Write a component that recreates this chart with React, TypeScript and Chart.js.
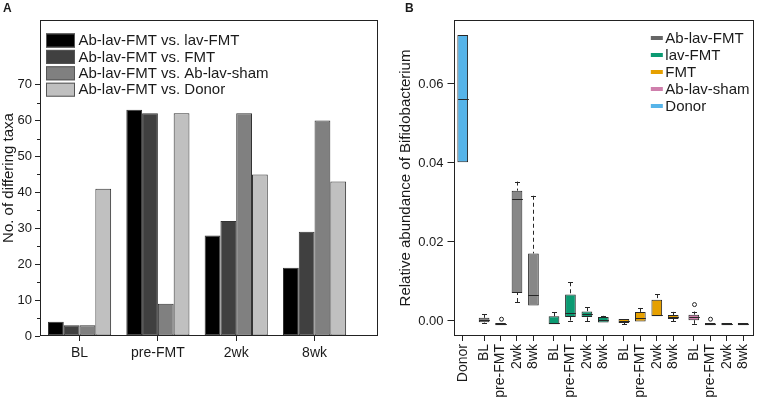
import React, { useEffect, useRef } from 'react';
import { Chart, registerables } from 'chart.js';

Chart.register(...registerables);

const FONT = '"Liberation Sans", Arial, Helvetica, sans-serif';
const INK = '#1a1a1a';

// ---------- Panel A data ----------
const timepoints = ['BL', 'pre-FMT', '2wk', '8wk'];
const comparisonLabels = [
  'Ab-lav-FMT vs. lav-FMT',
  'Ab-lav-FMT vs. FMT',
  'Ab-lav-FMT vs. Ab-lav-sham',
  'Ab-lav-FMT vs. Donor',
];
const vsLavFMT = [4, 63, 28, 19];
const vsFMT = [3, 62, 32, 29];
const vsAbLavSham = [3, 9, 62, 60];
const vsDonor = [41, 62, 45, 43];
const barYTicks = [0, 10, 20, 30, 40, 50, 60, 70];

// ---------- Panel B data ----------
const groupNames = ['Ab-lav-FMT', 'lav-FMT', 'FMT', 'Ab-lav-sham', 'Donor'];
const boxLabels = ['Donor', 'BL', 'pre-FMT', '2wk', '8wk', 'BL', 'pre-FMT', '2wk', '8wk', 'BL', 'pre-FMT', '2wk', '8wk', 'BL', 'pre-FMT', '2wk', '8wk'];
const boxGroups = ['Donor', 'Ab-lav-FMT', 'Ab-lav-FMT', 'Ab-lav-FMT', 'Ab-lav-FMT', 'lav-FMT', 'lav-FMT', 'lav-FMT', 'lav-FMT', 'FMT', 'FMT', 'FMT', 'FMT', 'Ab-lav-sham', 'Ab-lav-sham', 'Ab-lav-sham', 'Ab-lav-sham'];
const whiskerLow = [0.0402, -0.0004, -0.0011, 0.0048, 0.0039, -0.0008, 0.0001, -0.0001, -0.0004, -0.0008, -0.0001, 0.0012, -0.0001, -0.0007, -0.0011, -0.0011, -0.0011];
const q1 = [0.0402, -0.0003, -0.0011, 0.0071, 0.0039, -0.0008, 0.0010, 0.0010, -0.0004, -0.0005, -0.0001, 0.0012, 0.0005, 0.0002, -0.0011, -0.0011, -0.0011];
const median = [0.0563, 0.0003, -0.0008, 0.0309, 0.0067, -0.0006, 0.0020, 0.0018, 0.0003, 0.0001, 0.0008, 0.0016, 0.0010, 0.0010, -0.0008, -0.0008, -0.0008];
const q3 = [0.0724, 0.0008, -0.0005, 0.0330, 0.0171, 0.0012, 0.0067, 0.0024, 0.0010, 0.0005, 0.0023, 0.0054, 0.0015, 0.0016, -0.0005, -0.0005, -0.0005];
const whiskerHigh = [0.0724, 0.0017, -0.0005, 0.0353, 0.0317, 0.0022, 0.0098, 0.0035, 0.0013, 0.0005, 0.0033, 0.0068, 0.0023, 0.0024, -0.0005, -0.0005, -0.0005];
const outliers: number[][] = [[], [], [0.0002], [], [], [], [], [], [], [], [], [], [], [0.0039], [0.0002], [], []];
const boxYTicks = [0, 0.02, 0.04, 0.06];

// ---------- styles ----------
const barColors = ['#000000', '#404040', '#808080', '#c0c0c0'];
const groupFill: Record<string, string> = {
  'Ab-lav-FMT': '#878787',
  'lav-FMT': '#0b9a72',
  FMT: '#e6a000',
  'Ab-lav-sham': '#cf7fac',
  Donor: '#56b4e9',
};
const groupLegend: Record<string, string> = {
  'Ab-lav-FMT': '#666666',
  'lav-FMT': '#0b9a72',
  FMT: '#e6a000',
  'Ab-lav-sham': '#cf7fac',
  Donor: '#56b4e9',
};

// x positions for panel B: Donor alone, then four groups of four with a small gap
function boxPositions(): number[] {
  return boxGroups.map((g, i) => {
    if (i === 0) return 0;
    const gi = Math.floor((i - 1) / 4);
    const k = (i - 1) % 4;
    return 1.3 + gi * 4.25 + k;
  });
}

const framePlugin = {
  id: 'frame',
  afterDatasetsDraw(chart: any) {
    const { ctx, chartArea: a } = chart;
    ctx.save();
    ctx.strokeStyle = '#222';
    ctx.lineWidth = 1;
    ctx.strokeRect(Math.round(a.left) + 0.5, Math.round(a.top) + 0.5, Math.round(a.right - a.left) - 1, Math.round(a.bottom - a.top) - 1);
    ctx.restore();
  },
};

function panelLabel(text: string, x: number) {
  return {
    id: 'panelLabel' + text,
    afterDraw(chart: any) {
      const ctx = chart.ctx;
      ctx.save();
      ctx.fillStyle = INK;
      ctx.font = `bold 12px ${FONT}`;
      ctx.textBaseline = 'top';
      ctx.textAlign = 'left';
      ctx.fillText(text, x, 3);
      ctx.restore();
    },
  };
}

const legendAPlugin = {
  id: 'legendA',
  afterDraw(chart: any) {
    const { ctx, chartArea: a } = chart;
    ctx.save();
    ctx.font = `15px ${FONT}`;
    ctx.textBaseline = 'middle';
    ctx.textAlign = 'left';
    comparisonLabels.forEach((lab, i) => {
      const y = a.top + 13.5 + i * 16.4;
      ctx.fillStyle = barColors[i];
      ctx.fillRect(a.left + 6, y, 29, 14);
      ctx.strokeStyle = '#555';
      ctx.lineWidth = 1;
      ctx.strokeRect(a.left + 6.5, y + 0.5, 28, 13);
      ctx.fillStyle = INK;
      ctx.fillText(lab, a.left + 38.5, y + 7.5);
    });
    ctx.restore();
  },
};

const minorTickPlugin = {
  id: 'minorTicks',
  afterDraw(chart: any) {
    const { ctx, chartArea: a } = chart;
    const ys = chart.scales.y;
    ctx.save();
    ctx.strokeStyle = '#222';
    ctx.lineWidth = 1;
    for (let i = 0; i < barYTicks.length - 1; i++) {
      const py = Math.round(ys.getPixelForValue((barYTicks[i] + barYTicks[i + 1]) / 2)) + 0.5;
      ctx.beginPath();
      ctx.moveTo(a.left - 3, py);
      ctx.lineTo(a.left, py);
      ctx.stroke();
    }
    ctx.restore();
  },
};

const boxPlugin = {
  id: 'boxParts',
  afterDatasetsDraw(chart: any) {
    const { ctx } = chart;
    const xs = chart.scales.x;
    const ys = chart.scales.y;
    const meta = chart.getDatasetMeta(0);
    const pos = boxPositions();
    ctx.save();
    ctx.strokeStyle = '#262626';
    ctx.lineWidth = 1;
    pos.forEach((p, i) => {
      const x = Math.round(xs.getPixelForValue(p)) + 0.5;
      const el = meta.data[i];
      const hw = el ? el.width / 2 : 5.5;
      const drawWhisker = (from: number, to: number) => {
        const yf = ys.getPixelForValue(from);
        const yt = ys.getPixelForValue(to);
        ctx.setLineDash([4, 3]);
        ctx.beginPath();
        ctx.moveTo(x, yf);
        ctx.lineTo(x, yt);
        ctx.stroke();
        ctx.setLineDash([]);
        ctx.beginPath();
        ctx.moveTo(x - 2.5, Math.round(yf) + 0.5);
        ctx.lineTo(x + 2.5, Math.round(yf) + 0.5);
        ctx.stroke();
      };
      if (whiskerHigh[i] > q3[i]) drawWhisker(whiskerHigh[i], q3[i]);
      if (whiskerLow[i] < q1[i]) drawWhisker(whiskerLow[i], q1[i]);
      const my = Math.round(ys.getPixelForValue(median[i])) + 0.5;
      ctx.beginPath();
      ctx.moveTo(x - hw, my);
      ctx.lineTo(x + hw, my);
      ctx.stroke();
      outliers[i].forEach((o) => {
        const oy = ys.getPixelForValue(o);
        ctx.beginPath();
        ctx.arc(x, oy - 1, 2, 0, Math.PI * 2);
        ctx.fillStyle = '#fff';
        ctx.fill();
        ctx.stroke();
      });
    });
    ctx.restore();
  },
};

const legendBPlugin = {
  id: 'legendB',
  afterDraw(chart: any) {
    const { ctx, chartArea: a } = chart;
    ctx.save();
    ctx.font = `15px ${FONT}`;
    ctx.textBaseline = 'middle';
    ctx.textAlign = 'left';
    groupNames.forEach((g, i) => {
      const y = a.top + 18 + i * 17;
      ctx.fillStyle = groupLegend[g];
      ctx.fillRect(a.right - 103, y - 2, 12, 4);
      ctx.fillStyle = INK;
      ctx.fillText(g, a.right - 88.5, y + 1);
    });
    ctx.restore();
  },
};

function PanelA() {
  const ref = useRef<HTMLCanvasElement>(null);
  useEffect(() => {
    const series = [vsLavFMT, vsFMT, vsAbLavSham, vsDonor];
    const chart = new Chart(ref.current as HTMLCanvasElement, {
      type: 'bar',
      data: {
        datasets: series.map((s, k) => ({
          label: comparisonLabels[k],
          data: s.map((v, i) => ({ x: i, y: v })),
          backgroundColor: barColors[k],
          borderColor: '#333',
          borderWidth: 1,
          borderSkipped: false,
          categoryPercentage: 0.806,
          barPercentage: 1,
        })),
      },
      options: {
        animation: false,
        responsive: false,
        maintainAspectRatio: false,
        layout: { padding: { top: 20, right: 2, left: 0, bottom: 0 } },
        plugins: { legend: { display: false }, tooltip: { enabled: false } },
        scales: {
          x: {
            type: 'linear',
            min: -0.505,
            max: 3.81,
            offset: false,
            afterBuildTicks: (s: any) => {
              s.ticks = timepoints.map((_, i) => ({ value: i }));
            },
            afterFit: (s: any) => {
              s.height = 69;
            },
            ticks: {
              autoSkip: false,
              maxRotation: 0,
              minRotation: 0,
              padding: 4,
              color: INK,
              font: { family: FONT, size: 14 },
              callback: (_v: any, i: number) => timepoints[i],
            },
            grid: { display: true, offset: false, drawOnChartArea: false, drawTicks: true, tickLength: 5, color: '#222' },
            border: { display: false },
          },
          y: {
            min: 0,
            max: 88,
            afterBuildTicks: (s: any) => {
              s.ticks = barYTicks.map((v) => ({ value: v }));
            },
            afterFit: (s: any) => {
              s.width = 40;
            },
            ticks: { padding: 3, color: INK, font: { family: FONT, size: 13 } },
            grid: { display: true, drawOnChartArea: false, drawTicks: true, tickLength: 5, color: '#222' },
            border: { display: false },
            title: {
              display: true,
              text: 'No. of differing taxa',
              color: INK,
              font: { family: FONT, size: 15 },
              padding: { top: 0, bottom: 0 },
            },
          },
        },
      } as any,
      plugins: [framePlugin, legendAPlugin, minorTickPlugin, panelLabel('A', 3)],
    });
    return () => chart.destroy();
  }, []);
  return <canvas ref={ref} width={380} height={405} style={{ position: 'absolute', left: 0, top: 0, width: 380, height: 405 }} />;
}

function PanelB() {
  const ref = useRef<HTMLCanvasElement>(null);
  useEffect(() => {
    const pos = boxPositions();
    const chart = new Chart(ref.current as HTMLCanvasElement, {
      type: 'bar',
      data: {
        datasets: [
          {
            label: 'boxes',
            data: pos.map((p, i) => ({ x: p, y: [q1[i], q3[i]] })) as any,
            backgroundColor: boxGroups.map((g) => groupFill[g]),
            borderColor: '#262626',
            borderWidth: 1,
            borderSkipped: false,
            categoryPercentage: 0.65,
            barPercentage: 1,
          },
        ],
      },
      options: {
        animation: false,
        responsive: false,
        maintainAspectRatio: false,
        layout: { padding: { top: 20, right: 2, left: 0, bottom: 0 } },
        plugins: { legend: { display: false }, tooltip: { enabled: false } },
        scales: {
          x: {
            type: 'linear',
            min: -0.56,
            max: 17.7,
            offset: false,
            afterBuildTicks: (s: any) => {
              s.ticks = pos.map((v) => ({ value: v }));
            },
            afterFit: (s: any) => {
              s.height = 69;
            },
            ticks: {
              autoSkip: false,
              maxRotation: 90,
              minRotation: 90,
              padding: 3,
              color: INK,
              font: { family: FONT, size: 14 },
              callback: (_v: any, i: number) => boxLabels[i],
            },
            grid: { display: true, offset: false, drawOnChartArea: false, drawTicks: true, tickLength: 5, color: '#222' },
            border: { display: false },
          },
          y: {
            min: -0.0038,
            max: 0.0762,
            afterBuildTicks: (s: any) => {
              s.ticks = boxYTicks.map((v) => ({ value: v }));
            },
            afterFit: (s: any) => {
              s.width = 73.5;
            },
            ticks: {
              padding: 4,
              color: INK,
              font: { family: FONT, size: 13 },
              callback: (v: any) => Number(v).toFixed(2),
            },
            grid: { display: true, drawOnChartArea: false, drawTicks: true, tickLength: 6, color: '#222' },
            border: { display: false },
            title: {
              display: true,
              text: 'Relative abundance of Bifidobacterium',
              color: INK,
              font: { family: FONT, size: 15 },
              padding: { top: 17, bottom: 0 },
            },
          },
        },
      } as any,
      plugins: [boxPlugin, framePlugin, legendBPlugin, panelLabel('B', 25)],
    });
    return () => chart.destroy();
  }, []);
  return <canvas ref={ref} width={383} height={405} style={{ position: 'absolute', left: 380, top: 0, width: 383, height: 405 }} />;
}

export default function App() {
  return (
    <div style={{ position: 'absolute', left: 0, top: 0, width: 763, height: 405, background: '#fff', overflow: 'hidden' }}>
      <PanelA />
      <PanelB />
    </div>
  );
}
